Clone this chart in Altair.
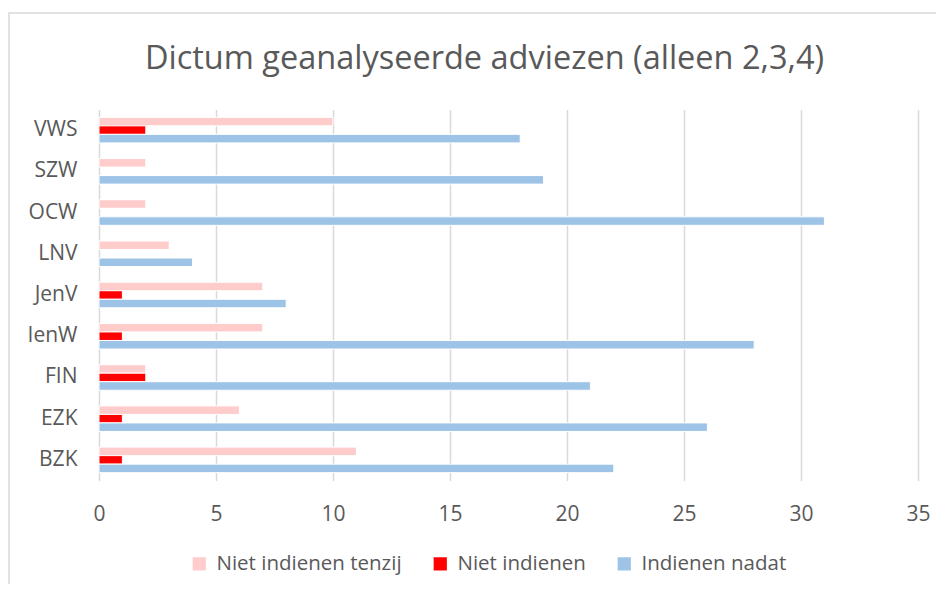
import altair as alt
import pandas as pd

departments = ["VWS", "SZW", "OCW", "LNV", "JenV", "IenW", "FIN", "EZK", "BZK"]
niet_indienen_tenzij = [10, 2, 2, 3, 7, 7, 2, 6, 11]
niet_indienen = [2, 0, 0, 0, 1, 1, 2, 1, 1]
indienen_nadat = [18, 19, 31, 4, 8, 28, 21, 26, 22]
series = ["Niet indienen tenzij", "Niet indienen", "Indienen nadat"]
colors = ["#ffcccc", "#ff0000", "#9dc3e6"]
x_ticks = [0, 5, 10, 15, 20, 25, 30, 35]

rows = []
for s, vals in zip(series, [niet_indienen_tenzij, niet_indienen, indienen_nadat]):
    for d, v in zip(departments, vals):
        rows.append({"dept": d, "serie": s, "value": v})
df = pd.DataFrame(rows)

W, H = 819, 371
FONT = "Open Sans"
GREY = "#595959"

bars = alt.Chart(df).transform_filter("datum.value > 0").mark_bar(
    stroke="white", strokeWidth=1
).encode(
    y=alt.Y("dept:N", sort=departments,
            scale=alt.Scale(paddingInner=0.38, paddingOuter=0.19),
            axis=alt.Axis(title=None, ticks=False, domain=False, grid=False,
                          labelPadding=22, labelFontSize=21, labelColor=GREY,
                          labelFont=FONT)),
    yOffset=alt.YOffset("serie:N", sort=series,
                        scale=alt.Scale(domain=series, paddingInner=0, paddingOuter=0)),
    x=alt.X("value:Q", scale=alt.Scale(domain=[0, 35], nice=False),
            axis=alt.Axis(title=None, values=x_ticks, grid=True, gridColor="#d9d9d9",
                          gridWidth=1.5, ticks=False, domain=False, labelPadding=23,
                          labelFlush=False,
                          labelFontSize=21, labelColor=GREY, labelFont=FONT)),
    color=alt.Color("serie:N", sort=series,
                    scale=alt.Scale(domain=series, range=colors),
                    legend=alt.Legend(title=None, orient="none", direction="horizontal",
                                      legendX=90, legendY=444, symbolType="square",
                                      symbolSize=175, symbolStrokeWidth=0,
                                      labelFontSize=20.5, labelFont=FONT, labelColor=GREY,
                                      labelLimit=0, labelOffset=7, columnPadding=28)),
)

border = alt.Chart(pd.DataFrame({"a": [0]})).mark_rect(
    fill=None, stroke="#d9d9d9", strokeWidth=1.5, clip=False
).encode(
    x=alt.value(-90), x2=alt.value(W + 100),
    y=alt.value(-96.5), y2=alt.value(H + 200),
)

chart = alt.layer(border, bars).properties(
    width=W, height=H,
    title=alt.TitleParams("Dictum geanalyseerde adviezen (alleen 2,3,4)",
                          fontSize=32.5, font=FONT, color=GREY, fontWeight="normal",
                          anchor="middle", dx=-24, offset=-63),
    padding={"left": 91, "top": 101.5, "right": 18, "bottom": 103},
    autosize="none",
).configure_view(stroke=None)

chart.save("out.html", embed_options={"renderer": "svg", "actions": False})
